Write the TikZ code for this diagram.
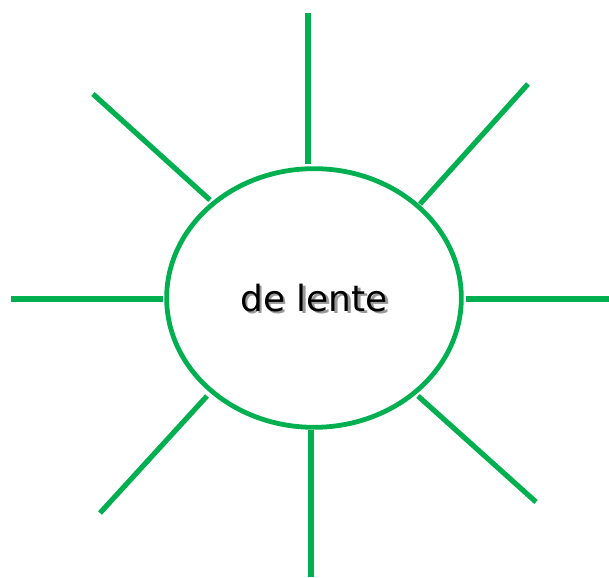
\documentclass[tikz,border=0pt]{standalone}
\usepackage{fontspec}
\setmainfont{DejaVu Sans}
\usetikzlibrary{shapes.geometric}
\definecolor{RayGreen}{RGB}{0,176,80}

\begin{document}
\begin{tikzpicture}[
        x=0.75pt, y=-0.75pt,
        lens/.style={
            draw=RayGreen,
            line width=3.6pt,
            ellipse,
            inner sep=0pt,
            minimum width=221pt,
            minimum height=194pt
        },
        ray/.style={
            draw=RayGreen,
            line width=3.9pt
        },
        lenslabel/.style={
            font=\fontsize{27}{32}\selectfont,
            inner sep=0pt
        }
    ]
        \useasboundingbox (0,0) rectangle (609,577);
        \node[lens] (lens) at (314,298) {};
        \node[lenslabel, text=black!40] (shadow) at (316.5,300.5) {de lente};
        \node[lenslabel] (label) at (314,298) {de lente};

        % inner ends of the rays
        \coordinate (in-n)  at (308,164);
        \coordinate (in-ne) at (420,204);
        \coordinate (in-e)  at (466,299);
        \coordinate (in-se) at (418,396);
        \coordinate (in-s)  at (311,430);
        \coordinate (in-sw) at (207,396);
        \coordinate (in-w)  at (163,299);
        \coordinate (in-nw) at (210,200);

        % outer ends of the rays
        \coordinate (out-n)  at (308,13);
        \coordinate (out-ne) at (528,84);
        \coordinate (out-e)  at (609,299);
        \coordinate (out-se) at (536,502);
        \coordinate (out-s)  at (311,577);
        \coordinate (out-sw) at (100,513);
        \coordinate (out-w)  at (11,299);
        \coordinate (out-nw) at (93,94);

        \foreach \dir in {n,ne,e,se,s,sw,w,nw}
            \draw[ray] (in-\dir) -- (out-\dir);
    \end{tikzpicture}
\end{document}
